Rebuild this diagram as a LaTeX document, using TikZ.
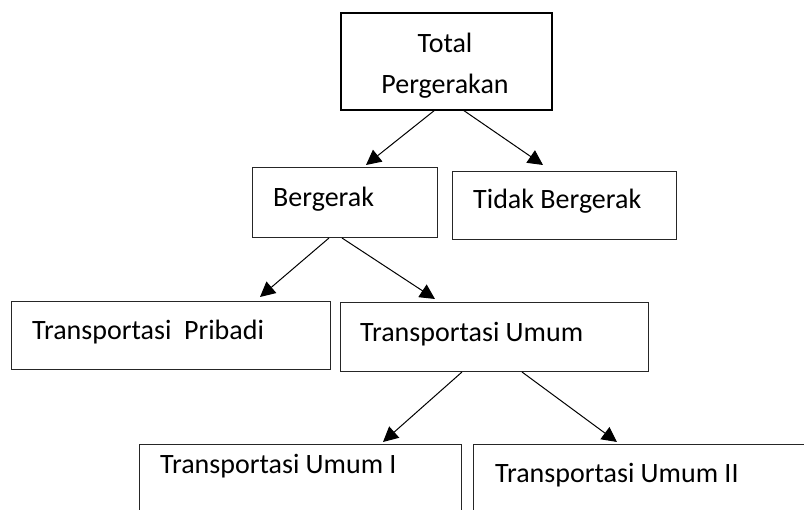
\documentclass[tikz,border=0pt]{standalone}
\usepackage{fontspec}
\setmainfont{Carlito}
\usetikzlibrary{arrows.meta}
\tikzset{
  box/.style={draw=black!85, line width=1pt, anchor=north west, inner sep=0pt, outer sep=0pt},
  txt/.style={anchor=base west, inner sep=0pt, font=\fontsize{28}{41}\selectfont},
  arr/.style={black, line width=1pt, -{Triangle[length=15pt,width=15pt]}}
}
\begin{document}
\begin{tikzpicture}[x=1pt,y=-1pt]
\useasboundingbox (0,0) rectangle (804,510);
%---------------------------------------------------
\node[box, draw=black, line width=2pt, minimum width=211pt, minimum height=97pt] (total) at (341,13) {};
\node[txt, anchor=base, align=center] (totaltxt) at (445,94) {Total\\Pergerakan};
%---------------------------------------------------
\node[box, minimum width=185pt, minimum height=70pt] (bergerak) at (252,168) {};
\node[box, minimum width=224pt, minimum height=68pt] (tidak) at (452,172) {};
\node[txt] (bergeraktxt) at (273,207) {Bergerak};
\node[txt] (tidaktxt) at (473,209) {Tidak Bergerak};
%---------------------------------------------------
\node[box, minimum width=319pt, minimum height=68pt] (pribadi) at (11,302) {};
\node[box, minimum width=308pt, minimum height=69pt] (umum) at (340,303) {};
\node[txt] (pribaditxt) at (32,340) {Transportasi\ \ Pribadi};
\node[txt] (umumtxt) at (360,342) {Transportasi Umum};
%---------------------------------------------------
\node[box, minimum width=322pt, minimum height=80pt] (umumi) at (139,445) {};
\node[box, minimum width=360pt, minimum height=80pt] (umumii) at (473,445) {};
\node[txt] (umumitxt) at (160,474) {Transportasi Umum I};
\node[txt] (umumiitxt) at (495,483) {Transportasi Umum II};
%---------------------------------------------------
\draw[arr] ([xshift=-11.5pt]total.south) -- ([xshift=21.5pt,yshift=3pt]bergerak.north);
\draw[arr] ([xshift=16.5pt]total.south) -- ([xshift=-21pt,yshift=7pt]tidak.north);
\draw[arr] ([xshift=-15.5pt]bergerak.south) -- ([xshift=89.5pt,yshift=5pt]pribadi.north);
\draw[arr] ([xshift=-2.5pt]bergerak.south) -- ([xshift=-59pt,yshift=4pt]umum.north);
\draw[arr] ([xshift=-32pt]umum.south) -- ([xshift=244pt,yshift=3pt]umumi.north west);
\draw[arr] ([xshift=28pt]umum.south) -- ([xshift=144pt,yshift=3pt]umumii.north west);
\end{tikzpicture}
\end{document}
